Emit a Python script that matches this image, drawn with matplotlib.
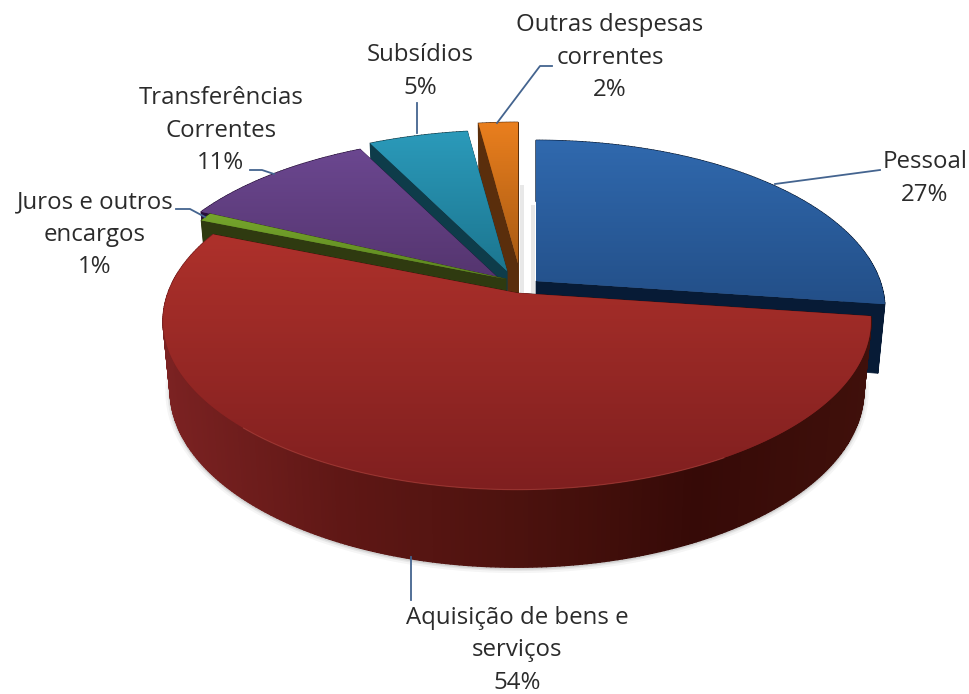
import numpy as np
import matplotlib
matplotlib.use("Agg")
import matplotlib.pyplot as plt
from matplotlib.patches import Polygon
from matplotlib.colors import LinearSegmentedColormap, to_rgb

# ---- data ----
categories = ["Pessoal", "Aquisição de bens e\nserviços", "Juros e outros\nencargos",
              "Transferências\nCorrentes", "Subsídios", "Outras despesas\ncorrentes"]
values = [27.2, 54.0, 0.8, 10.6, 5.3, 2.1]
# ---- styling / layout ----
apex_x = [536, 517, 506, 497, 507, 518]
apex_y = [281, 293, 279, 277, 271, 263]
radius_x = [344, 349, 350, 350, 350, 350]
top_light = ["#3069ae", "#ae312b", "#76a62c", "#6b4790", "#2b9aba", "#ea7f1e"]
top_dark = ["#234f88", "#7f1f1f", "#5c8420", "#55356f", "#1c7690", "#a95b13"]
face_col = ["#071b36", "#3a0c08", "#2f3a10", "#260f3a", "#0e3c4a", "#5a2e0c"]
wall_stops = ["#7b2222", "#5f1715", "#4c120e", "#360a07", "#40100b"]
draw_order = [5, 4, 3, 2, 0, 1]
label_xy = [(925, 162), (517, 618), (95, 202), (221, 98), (420, 55), (610, 25)]
leaders = [[(775, 184), (880, 170)], [(411, 557), (411, 600)],
           [(205, 217), (190, 209), (176, 209)], [(274, 174), (262, 170), (250, 170)],
           [(417, 133), (417, 103)], [(497, 123), (540, 66), (552, 66)]]
smudges = [(520, 524, 185, 295), (531, 535, 205, 295)]
RY, PERSP, DEPTH, BOT = 164, 0.166, 68, 0.98
LINE_STEP = 32.5

fig = plt.figure(figsize=(9.69, 6.94), dpi=100, facecolor="white")
ax = fig.add_axes([0, 0, 1, 1])
ax.set_xlim(0, 969)
ax.set_ylim(694, 0)
ax.axis("off")


def project(theta, ox, oy, rx, bottom=False):
    X, Y = np.sin(theta), -np.cos(theta)
    s = 1 / (1 - PERSP * Y)
    k = BOT if bottom else 1.0
    d = DEPTH * s if bottom else 0.0
    return ox + rx * k * X * s, oy + RY * k * Y * s + d


def mix(stops, t):
    stops = [np.array(to_rgb(c)) for c in stops]
    t = np.clip(t, 0, 1) * (len(stops) - 1)
    i = min(int(t), len(stops) - 2)
    return tuple(stops[i] + (stops[i + 1] - stops[i]) * (t - i))


edges = np.concatenate([[0], np.cumsum(values)])
edges = edges / edges[-1] * 2 * np.pi

# soft shadow under the front wall and on the white gap
th = np.linspace(edges[1], edges[2], 200)
bx, by = project(th, apex_x[1], apex_y[1], radius_x[1], bottom=True)
for w, a in [(7, 0.05), (4, 0.08), (2, 0.12)]:
    ax.plot(bx, by + 1, color="#404040", lw=w, alpha=a, zorder=0.5)
for x0, x1, y0, y1 in smudges:
    ax.fill([x0, x1, x1, x0], [y0, y0, y1, y1], color="#9a9a9a", alpha=0.22, lw=0, zorder=0.5)

for idx in draw_order:
    a0, a1 = edges[idx], edges[idx + 1]
    ox, oy, rx = apex_x[idx], apex_y[idx], radius_x[idx]
    # cut faces
    for a in (a0, a1):
        tx, ty = project(a, ox, oy, rx)
        ux, uy = project(a, ox, oy, rx, bottom=True)
        ax.add_patch(Polygon([(ox, oy), (tx, ty), (ux, uy), (ox, oy + DEPTH)],
                             closed=True, fc=face_col[idx], ec=face_col[idx], lw=0.5))
    # outer wall, strip by strip
    th = np.linspace(a0, a1, max(int((a1 - a0) * 90), 4))
    for t0, t1 in zip(th[:-1], th[1:]):
        p0, p1 = project(t0, ox, oy, rx), project(t1, ox, oy, rx)
        q0, q1 = project(t0, ox, oy, rx, True), project(t1, ox, oy, rx, True)
        col = mix(wall_stops, (p0[0] - 165) / 710) if idx == 1 else face_col[idx]
        ax.add_patch(Polygon([p0, p1, q1, q0], closed=True, fc=col, ec=col, lw=1.0))
    # top surface with vertical gradient
    th = np.linspace(a0, a1, 200)
    xs, ys = project(th, ox, oy, rx)
    verts = np.vstack([[ox, oy], np.column_stack([xs, ys])])
    poly = Polygon(verts, closed=True, fc=top_dark[idx], ec="none", lw=0, transform=ax.transData)
    ax.add_patch(poly)
    cmap = LinearSegmentedColormap.from_list("g", [top_light[idx], top_dark[idx]])
    grad = np.linspace(0, 1, 256).reshape(-1, 1)
    im = ax.imshow(grad, cmap=cmap, aspect="auto",
                   extent=(verts[:, 0].min(), verts[:, 0].max(), verts[:, 1].max(), verts[:, 1].min()))
    im.set_clip_path(poly)
    im.set_zorder(poly.get_zorder())
    if idx == 1:
        ft = np.linspace(a0 + 0.9, a1 - 1.2, 120)
        fx, fy = project(ft, ox, oy, rx)
        ax.plot(fx, fy, color="#b0453f", lw=0.8, alpha=0.6, zorder=1.5)

ax.set_xlim(0, 969)
ax.set_ylim(694, 0)

for pts in leaders:
    p = np.array(pts)
    ax.plot(p[:, 0], p[:, 1], color="#44648f", lw=1.3, zorder=6)

for cat, val, (lx, ly) in zip(categories, values, label_xy):
    lines = cat.split("\n") + [f"{max(round(val), 1)}%"]
    for i, ln in enumerate(lines):
        ax.text(lx, ly + i * LINE_STEP, ln, ha="center", va="center", fontsize=17.3,
                family="Open Sans", color="#2b2b2b", zorder=7)

fig.savefig("out.png", dpi=100, facecolor="white")
